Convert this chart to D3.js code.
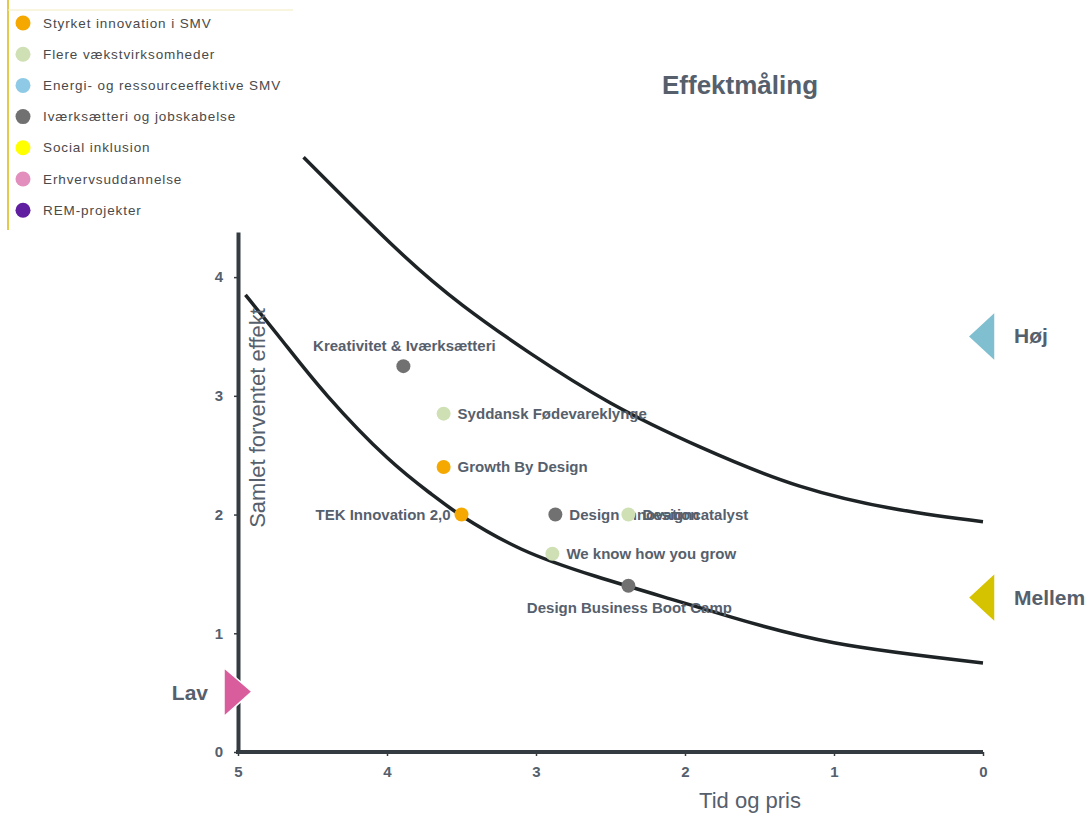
<!DOCTYPE html>
<html>
<head>
<meta charset="utf-8">
<script src="https://cdn.jsdelivr.net/npm/d3@7"></script>
<style>
  body { margin: 0; background: #fff; }
  svg { display: block; font-family: "Liberation Sans", Arial, sans-serif; }
</style>
</head>
<body>
<svg id="chart" width="1092" height="827"></svg>
<script>
// programmer / kategorier
var categories = ["Styrket innovation i SMV", "Flere vækstvirksomheder", "Energi- og ressourceeffektive SMV",
  "Iværksætteri og jobskabelse", "Social inklusion", "Erhvervsuddannelse", "REM-projekter"];
var catColors = ["#f5a800", "#cfe0b4", "#8ecae6", "#717171", "#ffff00", "#e28fbd", "#5f1fa0"];

// projekter
var projects = ["Kreativitet & Iværksætteri", "Syddansk Fødevareklynge", "Growth By Design", "TEK Innovation 2,0",
  "Design Innovation", "Designcatalyst", "We know how you grow", "Design Business Boot Camp"];
var tidOgPris = [3.89, 3.62, 3.62, 3.50, 2.87, 2.38, 2.89, 2.38];
var effekt = [3.25, 2.85, 2.40, 2.00, 2.00, 2.00, 1.67, 1.40];
var projectCat = [3, 1, 0, 0, 3, 1, 1, 3];

// kurver
var lowerX = [4.95, 4.7, 4.4, 4.0, 3.7, 3.5, 3.1, 2.6, 2.1, 1.7, 1.0, 0];
var lowerY = [3.85, 3.46, 3.0, 2.48, 2.17, 1.99, 1.71, 1.48, 1.29, 1.14, 0.92, 0.75];
var upperX = [4.56, 3.93, 3.49, 3.04, 2.5, 1.9, 1.23, 0.56, 0];
var upperY = [5.01, 4.23, 3.76, 3.36, 2.94, 2.57, 2.24, 2.04, 1.94];

// niveauer
var levels = ["Høj", "Mellem", "Lav"];
var levelValues = [3.5, 1.3, 0.5];
var levelColors = ["#7fbfd0", "#d6c300", "#d95c9c"];

var xTicks = [5, 4, 3, 2, 1, 0];
var yTicks = [0, 1, 2, 3, 4];

// placering af etiketter (ikke data)
var labelPos = {
  "Kreativitet & Iværksætteri": "above",
  "TEK Innovation 2,0": "left",
  "Design Business Boot Camp": "below"
};

var svg = d3.select("#chart");
var textColor = "#56606d";
var axisColor = "#343c42";

var x = d3.scaleLinear().domain([5, 0]).range([238, 983]);
var y = d3.scaleLinear().domain([0, 4.38]).range([752, 232]);

// legende
var legend = svg.append("g");
legend.append("line").attr("x1", 8).attr("x2", 8).attr("y1", 0).attr("y2", 230)
  .attr("stroke", "#e2cb4c").attr("stroke-width", 2);
legend.append("line").attr("x1", 8).attr("x2", 293).attr("y1", 10).attr("y2", 10)
  .attr("stroke", "#f2ebbd").attr("stroke-width", 1);
categories.forEach(function(c, i) {
  var yy = 23 + i * 31.2;
  legend.append("circle").attr("cx", 23).attr("cy", yy).attr("r", 7.5).attr("fill", catColors[i]);
  legend.append("text").attr("x", 43).attr("y", yy + 4.5).attr("font-size", 13.5)
    .attr("letter-spacing", 0.9).attr("fill", "#4a4a4a").text(c);
});

// titel
svg.append("text").attr("x", 740).attr("y", 94).attr("text-anchor", "middle")
  .attr("font-size", 26).attr("font-weight", "bold").attr("fill", textColor).text("Effektmåling");

// akser
var yAxis = svg.append("g").attr("transform", "translate(" + x(5) + ",0)")
  .call(d3.axisLeft(y).tickValues(yTicks).tickFormat(d3.format("d")).tickSize(4).tickPadding(11).tickSizeOuter(0));
var xAxis = svg.append("g").attr("transform", "translate(0," + y(0) + ")")
  .call(d3.axisBottom(x).tickValues(xTicks).tickFormat(d3.format("d")).tickSize(4).tickPadding(10).tickSizeOuter(0));
[xAxis, yAxis].forEach(function(a) {
  a.select(".domain").attr("stroke", axisColor).attr("stroke-width", 4);
  a.selectAll(".tick line").attr("stroke", axisColor).attr("stroke-width", 1.5);
  a.selectAll(".tick text").attr("fill", textColor).attr("font-size", 15)
    .attr("font-weight", "bold").attr("font-family", "Liberation Sans, Arial, sans-serif");
});
xAxis.select(".domain").attr("d", "M" + (x(5) - 2) + ",0H" + x(0));

svg.append("text").attr("x", 750).attr("y", 808).attr("text-anchor", "middle")
  .attr("font-size", 22).attr("fill", textColor).text("Tid og pris");

// kurver
var line = d3.line().x(function(d) { return x(d[0]); }).y(function(d) { return y(d[1]); })
  .curve(d3.curveNatural);
[[lowerX, lowerY], [upperX, upperY]].forEach(function(c) {
  svg.append("path").datum(d3.zip(c[0], c[1])).attr("d", line)
    .attr("fill", "none").attr("stroke", "#1e2326").attr("stroke-width", 3.5);
});

svg.append("text").attr("transform", "translate(265,418) rotate(-90)").attr("text-anchor", "middle")
  .attr("font-size", 22).attr("fill", textColor).text("Samlet forventet effekt");

// niveau-pile
levels.forEach(function(l, i) {
  var cy = y(levelValues[i]);
  var pts, tx, anchor;
  if (l === "Lav") {
    pts = [[224, cy - 25], [252, cy - 1], [224, cy + 24]];
    tx = 208; anchor = "end";
  } else {
    pts = [[995, cy - 25], [968, cy], [995, cy + 25]];
    tx = 1014; anchor = "start";
  }
  svg.append("polygon").attr("points", pts.map(function(p) { return p.join(","); }).join(" "))
    .attr("fill", levelColors[i]).attr("stroke", "#fff").attr("stroke-width", 1.5);
  svg.append("text").attr("x", tx).attr("y", cy + 7).attr("text-anchor", anchor)
    .attr("font-size", 21).attr("font-weight", "bold").attr("fill", textColor).text(l);
});

// punkter og etiketter
var nodes = projects.map(function(p, i) {
  return {name: p, x: tidOgPris[i], y: effekt[i], cat: projectCat[i]};
});
var g = svg.append("g").selectAll("g").data(nodes).enter().append("g")
  .attr("transform", function(d) { return "translate(" + x(d.x) + "," + y(d.y) + ")"; });
g.append("circle").attr("r", 7).attr("fill", function(d) { return catColors[d.cat]; });
g.append("text")
  .attr("font-size", 15).attr("font-weight", "bold").attr("fill", textColor)
  .attr("text-anchor", function(d) {
    var p = labelPos[d.name];
    return p === "left" ? "end" : (p === "above" || p === "below") ? "middle" : "start";
  })
  .attr("x", function(d) {
    var p = labelPos[d.name];
    return p === "left" ? -11 : (p === "above" || p === "below") ? 1 : 14;
  })
  .attr("y", function(d) {
    var p = labelPos[d.name];
    return p === "above" ? -15 : p === "below" ? 27 : 5;
  })
  .text(function(d) { return d.name; });
</script>
</body>
</html>
